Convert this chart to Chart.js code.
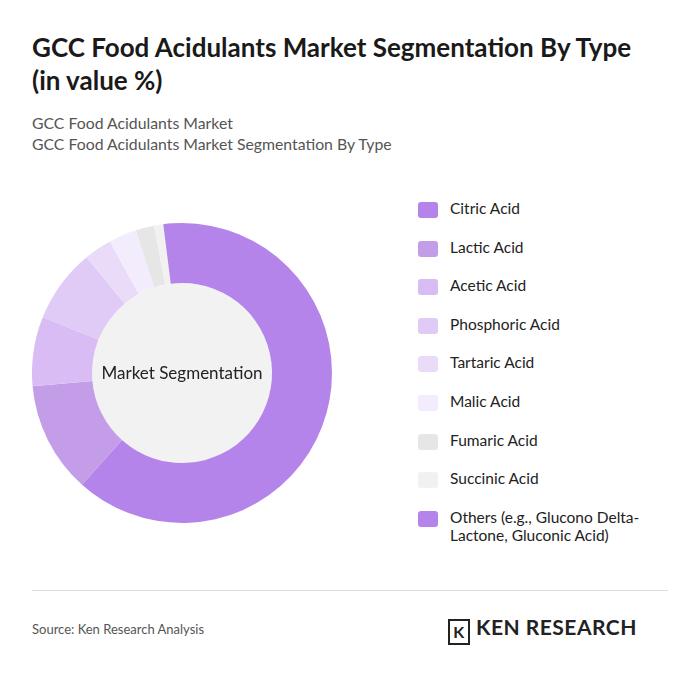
<!DOCTYPE html>
<html><head><meta charset="utf-8">
<script src="https://cdn.jsdelivr.net/npm/chart.js@4"></script>
<style>
body{margin:0;width:700px;height:675px;background:#fff;font-family:Lato,"Open Sans",sans-serif;position:relative;overflow:hidden}
h1{position:absolute;left:32px;top:31px;margin:0;font-size:26px;line-height:33px;font-weight:700;color:#1a1a1a;width:615px}
.sub{position:absolute;left:32px;top:112px;font-size:15.8px;line-height:21px;color:#555}
#wrap{position:absolute;left:22px;top:213px;width:320px;height:320px}
.center{position:absolute;left:32px;top:362px;width:300px;text-align:center;font-size:17px;color:#222}
.legend{position:absolute;left:418px;top:199px;font-size:15.5px;color:#222}
.li{display:flex;align-items:flex-start;height:38.6px}
.sw{width:20px;height:16px;border-radius:3px;margin-right:12px;margin-top:3px;flex:none}
.hr{position:absolute;left:32px;right:32px;top:590px;border-top:1px solid #ddd}
.src{position:absolute;left:32px;top:621px;font-size:13px;color:#555}
.logo{position:absolute;left:448px;top:614px;font-size:21px;font-weight:700;color:#222;letter-spacing:0.5px}
</style></head><body>
<h1>GCC Food Acidulants Market Segmentation By Type (in value %)</h1>
<div class="sub">GCC Food Acidulants Market<br>GCC Food Acidulants Market Segmentation By Type</div>
<div id="wrap"><canvas id="c" width="320" height="320"></canvas></div>
<div class="center">Market Segmentation</div>
<div class="legend" id="lg"></div>
<div class="hr"></div>
<div class="src">Source: Ken Research Analysis</div>
<div class="logo"><span style="display:inline-block;width:18px;height:22px;border:2px solid #222;text-align:center;font-size:16px;line-height:22px;margin-right:6px;vertical-align:-3px">K</span>KEN RESEARCH</div>
<script>
const categories=["Citric Acid","Lactic Acid","Acetic Acid","Phosphoric Acid","Tartaric Acid","Malic Acid","Fumaric Acid","Succinic Acid","Others (e.g., Glucono Delta-Lactone, Gluconic Acid)"];
const values=[61.8,12,7.5,8,3,3,2,1,2];
const colors=["#b584ea","#c49de9","#d8bcf3","#e0cbf6","#eadcf9","#f3ecfc","#e6e6e6","#f1f1f1","#b584ea"];
const lg=document.getElementById('lg');
categories.forEach((c,i)=>{const d=document.createElement('div');d.className='li';d.innerHTML='<span class="sw" style="background:'+colors[i]+'"></span><span>'+c.replace('Delta-Lactone','Delta-<br>Lactone')+'</span>';lg.appendChild(d);});
new Chart(document.getElementById('c'),{type:'doughnut',data:{labels:categories,datasets:[{data:values,backgroundColor:colors,borderWidth:0}]},
options:{responsive:false,animation:false,cutout:'60%',layout:{padding:10},plugins:{legend:{display:false},tooltip:{enabled:false}}},
plugins:[{id:'bg',beforeDatasetsDraw(ch){const m=ch.getDatasetMeta(0).data[0];const x=ch.ctx;x.save();x.beginPath();x.arc(m.x,m.y,m.innerRadius,0,Math.PI*2);x.fillStyle='#f2f2f2';x.fill();x.restore();}}]});
</script>
</body></html>
